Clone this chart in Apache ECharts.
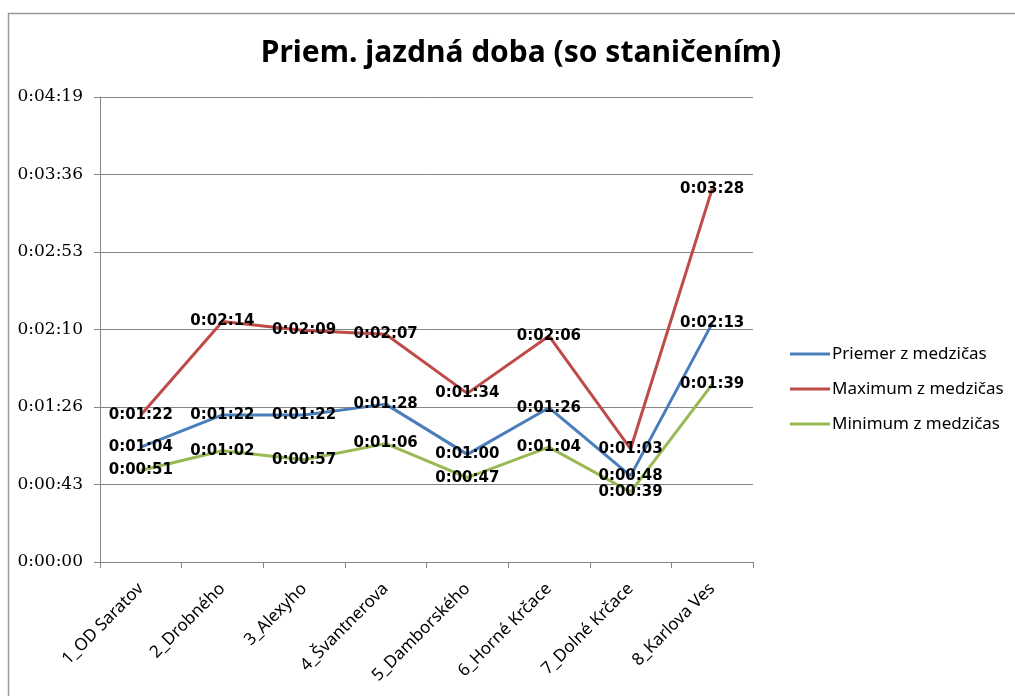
<!DOCTYPE html>
<html>
<head>
<meta charset="utf-8">
<script src="https://cdn.jsdelivr.net/npm/echarts@6/dist/echarts.min.js"></script>
<style>
html,body{margin:0;padding:0;background:#fff;}
#c{width:1015px;height:696px;}
</style>
</head>
<body>
<div id="c"></div>
<script>
// Data (seconds)
const categories = ['1_OD Saratov','2_Drobného','3_Alexyho','4_Švantnerova','5_Damborského','6_Horné Krčace','7_Dolné Krčace','8_Karlova Ves'];
const priemer = [64, 82, 82, 88, 60, 86, 48, 133];
const maximum = [82, 134, 129, 127, 94, 126, 63, 208];
const minimum = [51, 62, 57, 66, 47, 64, 39, 99];
const seriesNames = ['Priemer z medzičas','Maximum z medzičas','Minimum z medzičas'];
const titleText = 'Priem. jazdná doba (so staničením)';
const yStep = 43.2; // 0:00:43.2
const yMax = 259.2;

function fmt(sec){
  const s = Math.round(sec);
  const h = Math.floor(s/3600);
  const m = Math.floor((s%3600)/60);
  const ss = s%60;
  return h + ':' + String(m).padStart(2,'0') + ':' + String(ss).padStart(2,'0');
}

const chart = echarts.init(document.getElementById('c'), null, {renderer:'canvas'});
const labelStyle = {
  show: true,
  position: 'inside',
  color: '#000',
  fontFamily: 'DejaVu Sans',
  fontWeight: 'bold',
  fontSize: 15,
  formatter: p => fmt(p.value)
};
function mk(name, data, color){
  return {
    name, type:'line', data,
    symbol:'circle', symbolSize:1, showSymbol:true,
    lineStyle:{color, width:3},
    itemStyle:{color},
    label: labelStyle,
    emphasis:{disabled:true},
    animation:false, z:2
  };
}
chart.setOption({
  animation:false,
  backgroundColor:'#fff',
  graphic:[{
    type:'rect', shape:{x:8.5, y:13.5, width:1100, height:800},
    style:{fill:'none', stroke:'#9a9a9a', lineWidth:1.5}, silent:true
  }],
  title:{
    text:titleText, left:516, textAlign:'center', top:33,
    textStyle:{fontFamily:'Noto Sans', fontWeight:'bold', fontSize:30, color:'#000'}
  },
  legend:{
    orient:'vertical', left:785, top:339,
    icon:'rect', itemWidth:40, itemHeight:3, itemGap:15,
    textStyle:{fontFamily:'Noto Sans', fontSize:17, color:'#000', lineHeight:20, padding:[0,0,0,-3]},
    data:seriesNames
  },
  grid:{left:100, right:262, top:97, bottom:134},
  xAxis:{
    type:'category', data:categories, boundaryGap:true,
    axisLine:{lineStyle:{color:'#868686', width:1}},
    axisTick:{show:true, length:6, lineStyle:{color:'#868686'}},
    axisLabel:{rotate:45, margin:24, color:'#000', fontFamily:'Noto Sans', fontSize:17, interval:0},
    splitLine:{show:false}
  },
  yAxis:{
    type:'value', min:0, max:yMax, interval:yStep,
    axisLine:{show:true, lineStyle:{color:'#868686', width:1}},
    axisTick:{show:true, length:6, lineStyle:{color:'#868686'}},
    axisLabel:{formatter:v=>fmt(v), color:'#000', fontFamily:'DejaVu Serif', fontSize:17, margin:17},
    splitLine:{show:true, lineStyle:{color:'#868686', width:1}}
  },
  series:[
    mk(seriesNames[0], priemer, '#4A7EBB'),
    mk(seriesNames[1], maximum, '#BE4B48'),
    mk(seriesNames[2], minimum, '#98B954')
  ]
});
</script>
</body>
</html>
